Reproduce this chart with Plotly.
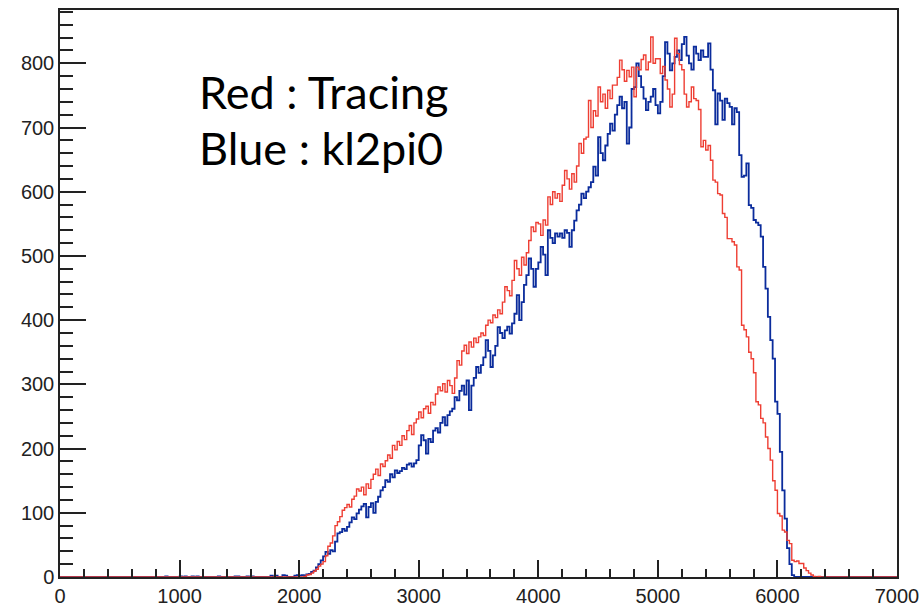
import numpy as np
import plotly.graph_objects as go

# ---------------- data ----------------
BIN_WIDTH = 20
X_MIN, X_MAX = 0, 7000
START = 2000  # first bin of the listed counts

# Red : Tracing, bins of 20 starting at 2000
red_counts = [
    0, 0, 1, 3, 4, 6, 9, 12, 17, 20,
    24, 33, 48, 53, 64, 80, 86, 94, 104, 108,
    113, 109, 121, 126, 137, 134, 140, 128, 145, 138,
    152, 160, 168, 158, 176, 172, 181, 190, 185, 205,
    198, 211, 205, 220, 214, 228, 236, 222, 240, 246,
    257, 248, 262, 266, 255, 272, 268, 285, 296, 290,
    301, 288, 306, 298, 286, 310, 337, 330, 352, 361,
    348, 366, 358, 372, 365, 374, 380, 376, 392, 400,
    396, 408, 404, 416, 410, 428, 452, 446, 438, 462,
    493, 480, 470, 498, 486, 505, 524, 545, 538, 552,
    550, 532, 556, 548, 592, 580, 600, 590, 597, 585,
    610, 633, 620, 604, 628, 615, 640, 675, 660, 682,
    685, 742, 700, 726, 718, 763, 740, 752, 730, 758,
    745, 766, 766, 778, 805, 790, 772, 789, 779, 794,
    748, 794, 790, 806, 813, 790, 802, 841, 800, 807,
    807, 784, 795, 774, 760, 732, 752, 839, 815, 798,
    790, 752, 732, 740, 763, 745, 742, 728, 670, 680,
    665, 672, 649, 618, 615, 597, 595, 566, 560, 527,
    527, 522, 517, 483, 478, 392, 385, 374, 350, 340,
    318, 273, 268, 247, 240, 218, 200, 182, 150, 135,
    99, 95, 73, 70, 57, 52, 26, 24, 25, 21,
    21, 14, 10, 6, 3, 1, 0, 1, 0, 0,
]

# Blue : kl2pi0, bins of 20 starting at 2000
blue_counts = [
    2, 3, 2, 4, 5, 8, 10, 15, 20, 26,
    32, 39, 36, 42, 40, 55, 68, 70, 75, 72,
    78, 85, 93, 90, 99, 105, 110, 114, 93, 109,
    115, 100, 117, 125, 135, 140, 151, 148, 160, 155,
    166, 162, 165, 170, 168, 175, 177, 172, 177, 182,
    205, 221, 213, 192, 215, 210, 228, 232, 225, 240,
    249, 236, 252, 258, 262, 280, 275, 290, 298, 284,
    306, 260, 298, 310, 327, 318, 330, 342, 369, 352,
    327, 345, 360, 389, 380, 372, 384, 390, 379, 395,
    410, 439, 400, 428, 455, 470, 496, 480, 452, 480,
    490, 514, 502, 470, 540, 528, 520, 535, 530, 535,
    528, 540, 536, 514, 540, 555, 571, 580, 597, 590,
    600, 607, 615, 639, 625, 685, 660, 649, 672, 690,
    706, 695, 720, 735, 748, 730, 740, 675, 700, 760,
    763, 800, 780, 763, 745, 727, 740, 748, 760, 735,
    722, 740, 780, 833, 815, 789, 800, 810, 820, 805,
    830, 841, 812, 800, 790, 826, 815, 805, 820, 810,
    810, 831, 790, 758, 705, 753, 742, 712, 745, 738,
    732, 705, 730, 724, 657, 623, 625, 644, 579, 575,
    556, 552, 548, 530, 483, 449, 405, 369, 340, 273,
    254, 195, 135, 91, 45, 20, 3, 0, 0, 0,
    0, 0, 0, 0, 0, 0, 0, 0, 0, 0,
]

# sporadic small blue entries below 2000
blue_low_x = [880, 1000, 1040, 1100, 1140, 1320, 1460, 1480, 1560, 1600,
              1760, 1800, 1860, 1880, 1960, 1980]
blue_low_counts = [1, 1, 1, 1, 1, 1, 1, 1, 1, 1, 2, 2, 3, 2, 2, 3]

x_tick_vals = [0, 1000, 2000, 3000, 4000, 5000, 6000, 7000]
y_tick_vals = [0, 100, 200, 300, 400, 500, 600, 700, 800]
label_red = "Red : Tracing"
label_blue = "Blue : kl2pi0"


def build(counts, extra_x=(), extra_c=()):
    n = (X_MAX - X_MIN) // BIN_WIDTH
    full = np.zeros(n)
    i0 = (START - X_MIN) // BIN_WIDTH
    full[i0:i0 + len(counts)] = counts
    for xv, c in zip(extra_x, extra_c):
        full[(xv - X_MIN) // BIN_WIDTH] = c
    edges = np.arange(X_MIN, X_MAX + BIN_WIDTH, BIN_WIDTH)
    ys = np.append(full, full[-1])
    return edges, ys


bx, by = build(blue_counts, blue_low_x, blue_low_counts)
rx, ry = build(red_counts)

fig = go.Figure()
fig.add_trace(go.Scatter(x=bx, y=by, mode="lines", line_shape="hv",
                         line=dict(color="#0B2C9C", width=1.8), showlegend=False))
fig.add_trace(go.Scatter(x=rx, y=ry, mode="lines", line_shape="hv",
                         line=dict(color="#EE3E33", width=1.4), showlegend=False))

axis_common = dict(showline=True, linecolor="#222", linewidth=1.5, mirror=True,
                   showgrid=False, zeroline=False, ticks="inside", tickcolor="#222",
                   tickwidth=1.5, automargin=False,
                   tickfont=dict(family="Liberation Sans, Arial, sans-serif",
                                 size=20, color="#222"))

fig.update_xaxes(range=[X_MIN, X_MAX], tickvals=x_tick_vals, ticklen=17,
                 minor=dict(ticks="inside", dtick=200, tick0=0, ticklen=8,
                            tickcolor="#222", tickwidth=1.5),
                 **axis_common)
fig.update_yaxes(range=[0, 883], tickvals=y_tick_vals, ticklen=26,
                 minor=dict(ticks="inside", dtick=20, tick0=0, ticklen=13,
                            tickcolor="#222", tickwidth=1.5),
                 **axis_common)

fig.add_annotation(x=(197 - 60) / 837, y=(577 - 92) / 567, xref="paper", yref="paper",
                   text=label_red, showarrow=False, xanchor="left", yanchor="middle",
                   font=dict(family="Lato, Open Sans, sans-serif", size=45, color="black"))
fig.add_annotation(x=(197 - 60) / 837, y=(577 - 148) / 567, xref="paper", yref="paper",
                   text=label_blue, showarrow=False, xanchor="left", yanchor="middle",
                   font=dict(family="Lato, Open Sans, sans-serif", size=45, color="black"))

fig.update_layout(width=923, height=604, margin=dict(l=60, r=26, t=10, b=27),
                  plot_bgcolor="white", paper_bgcolor="white")

# remove the browser's default 8px body margin so the figure fills the window
fig.write_html("out.html", config={"displayModeBar": False},
               post_script="document.body.style.margin='0';"
                           "document.body.style.overflow='hidden';")
